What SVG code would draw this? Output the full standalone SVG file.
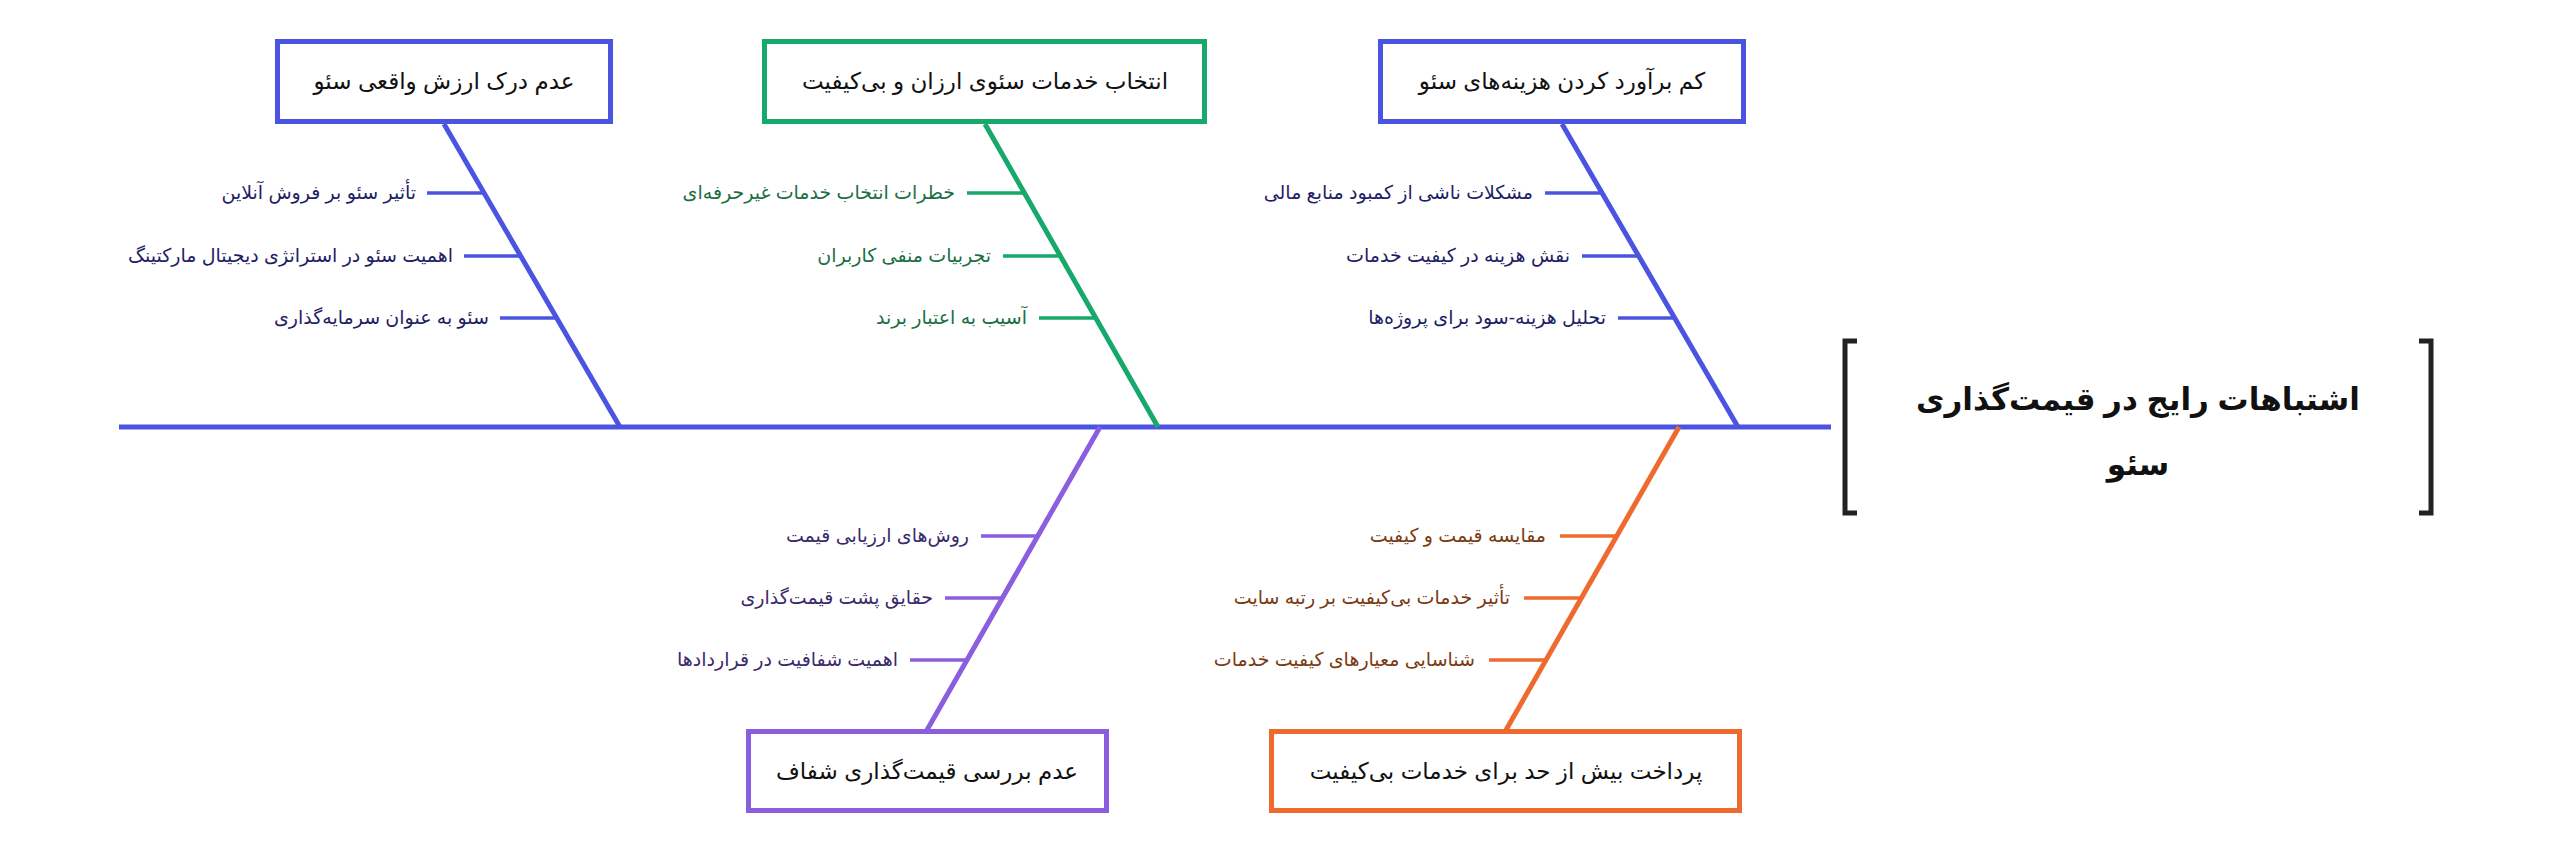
<svg xmlns="http://www.w3.org/2000/svg" width="2560" height="854" viewBox="0 0 2560 854">
<style>
text{font-family:"Liberation Sans","DejaVu Sans",sans-serif;}
.box{fill:#fff;stroke-width:5;}
.bt{font-size:23px;fill:#111;text-anchor:middle;}
.st{font-size:19px;text-anchor:end;}
.bone{stroke-width:5;fill:none;}
.sub{stroke-width:3.5;}
.blue{stroke:#4A54E1;}
.green{stroke:#17A86B;}
.purple{stroke:#8A5EDE;}
.orange{stroke:#EE6A2E;}
.tblue{fill:#1E1E66;}
.tgreen{fill:#1B6E45;}
.tpurple{fill:#3A2A6B;}
.torange{fill:#7A3A12;}
</style>
<rect width="2560" height="854" fill="#fff"/>
<g id="connectors">
<line x1="119" y1="427" x2="1831" y2="427" class="bone blue"/>
<line x1="444" y1="124" x2="620" y2="427" class="bone blue"/>
<line x1="427" y1="193" x2="484" y2="193" class="sub blue"/>
<line x1="464" y1="256" x2="521" y2="256" class="sub blue"/>
<line x1="500" y1="318" x2="557" y2="318" class="sub blue"/>
<line x1="985" y1="124" x2="1158" y2="427" class="bone green"/>
<line x1="967" y1="193" x2="1024" y2="193" class="sub green"/>
<line x1="1003" y1="256" x2="1060" y2="256" class="sub green"/>
<line x1="1039" y1="318" x2="1096" y2="318" class="sub green"/>
<line x1="1562" y1="124" x2="1738" y2="427" class="bone blue"/>
<line x1="1545" y1="193" x2="1602" y2="193" class="sub blue"/>
<line x1="1582" y1="256" x2="1639" y2="256" class="sub blue"/>
<line x1="1618" y1="318" x2="1675" y2="318" class="sub blue"/>
<line x1="1100" y1="427" x2="927" y2="730" class="bone purple"/>
<line x1="981" y1="536" x2="1038" y2="536" class="sub purple"/>
<line x1="945" y1="598" x2="1002" y2="598" class="sub purple"/>
<line x1="910" y1="660" x2="967" y2="660" class="sub purple"/>
<line x1="1679" y1="427" x2="1506" y2="730" class="bone orange"/>
<line x1="1560" y1="536" x2="1617" y2="536" class="sub orange"/>
<line x1="1524" y1="598" x2="1581" y2="598" class="sub orange"/>
<line x1="1489" y1="660" x2="1546" y2="660" class="sub orange"/>
</g>
<g id="head">
<path d="M1857,341 H1845 V513 H1857" fill="none" stroke="#222" stroke-width="5"/>
<path d="M2419,341 H2431 V513 H2419" fill="none" stroke="#222" stroke-width="5"/>
<text x="2138" y="410" font-size="31" font-weight="bold" fill="#111" text-anchor="middle">اشتباهات رایج در قیمت‌گذاری</text>
<text x="2138" y="475" font-size="31" font-weight="bold" fill="#111" text-anchor="middle">سئو</text>
</g>
<g id="cat1">
<rect x="277.5" y="41.5" width="333" height="80" class="box blue"/>
<text x="444" y="89" class="bt">عدم درک ارزش واقعی سئو</text>
<text x="416" y="199" class="st tblue">تأثیر سئو بر فروش آنلاین</text>
<text x="453" y="262" class="st tblue">اهمیت سئو در استراتژی دیجیتال مارکتینگ</text>
<text x="489" y="324" class="st tblue">سئو به عنوان سرمایه‌گذاری</text>
</g>
<g id="cat2">
<rect x="764.5" y="41.5" width="440" height="80" class="box green"/>
<text x="985" y="89" class="bt">انتخاب خدمات سئوی ارزان و بی‌کیفیت</text>
<text x="955" y="199" class="st tgreen">خطرات انتخاب خدمات غیرحرفه‌ای</text>
<text x="991" y="262" class="st tgreen">تجربیات منفی کاربران</text>
<text x="1027" y="324" class="st tgreen">آسیب به اعتبار برند</text>
</g>
<g id="cat3">
<rect x="1380.5" y="41.5" width="363" height="80" class="box blue"/>
<text x="1562" y="89" class="bt">کم برآورد کردن هزینه‌های سئو</text>
<text x="1533" y="199" class="st tblue">مشکلات ناشی از کمبود منابع مالی</text>
<text x="1570" y="262" class="st tblue">نقش هزینه در کیفیت خدمات</text>
<text x="1606" y="324" class="st tblue">تحلیل هزینه-سود برای پروژه‌ها</text>
</g>
<g id="cat4">
<rect x="748.5" y="731.5" width="358" height="79" class="box purple"/>
<text x="927" y="779" class="bt">عدم بررسی قیمت‌گذاری شفاف</text>
<text x="969" y="542" class="st tpurple">روش‌های ارزیابی قیمت</text>
<text x="933" y="604" class="st tpurple">حقایق پشت قیمت‌گذاری</text>
<text x="898" y="666" class="st tpurple">اهمیت شفافیت در قراردادها</text>
</g>
<g id="cat5">
<rect x="1271.5" y="731.5" width="468" height="79" class="box orange"/>
<text x="1506" y="779" class="bt">پرداخت بیش از حد برای خدمات بی‌کیفیت</text>
<text x="1546" y="542" class="st torange">مقایسه قیمت و کیفیت</text>
<text x="1510" y="604" class="st torange">تأثیر خدمات بی‌کیفیت بر رتبه سایت</text>
<text x="1475" y="666" class="st torange">شناسایی معیارهای کیفیت خدمات</text>
</g>
</svg>
